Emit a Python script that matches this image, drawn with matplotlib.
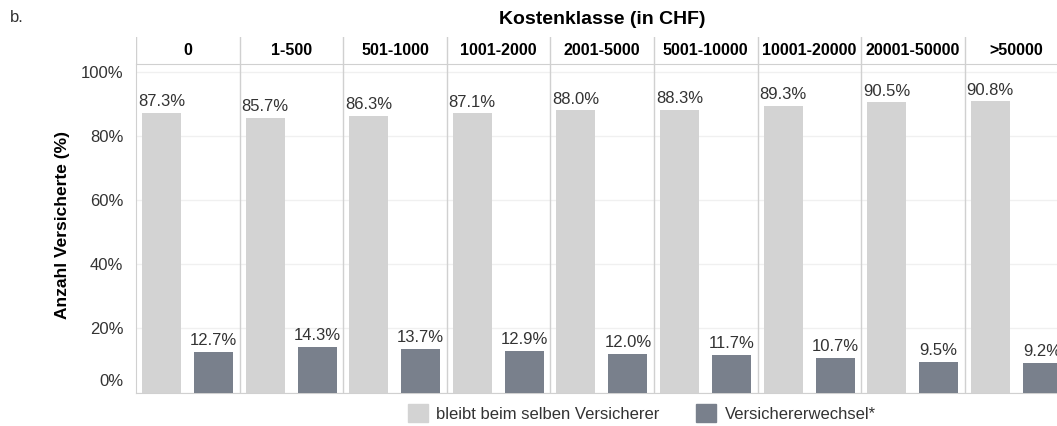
import numpy as np
import matplotlib
matplotlib.use("Agg")
import matplotlib.pyplot as plt
import matplotlib.transforms as mtransforms
from matplotlib.patches import Patch
from matplotlib.ticker import FuncFormatter

plt.rcParams['font.family'] = ['Liberation Sans', 'DejaVu Sans']

# data
classes = ['0', '1-500', '501-1000', '1001-2000', '2001-5000', '5001-10000',
           '10001-20000', '20001-50000', '>50000']
stay = [87.3, 85.7, 86.3, 87.1, 88.0, 88.3, 89.3, 90.5, 90.8]
switch = [12.7, 14.3, 13.7, 12.9, 12.0, 11.7, 10.7, 9.5, 9.2]

c_stay = '#d3d3d3'
c_switch = '#79808c'
c_text = '#333333'
c_sep = '#d0d0d0'

W, H = 1057, 426
fig = plt.figure(figsize=(W / 100, H / 100), dpi=100)

# panel geometry (pixels)
x0 = 136
pw = 103.6
n = len(classes)
y_top = 64
y_bot = 392.5

ax = fig.add_axes([x0 / W, (H - y_bot) / H, n * pw / W, (y_bot - y_top) / H])
ax.set_xlim(0, n)
ax.set_ylim(0, 102.5)

pos = np.arange(n)
bw = 0.376
ax.bar(pos + 0.246, stay, width=bw, color=c_stay, zorder=3)
ax.bar(pos + 0.748, switch, width=bw, color=c_switch, zorder=3)

for i in range(n):
    ax.text(pos[i] + 0.246, stay[i] + 1.2, f'{stay[i]:.1f}%', ha='center', va='bottom',
            fontsize=12, color=c_text, zorder=4)
    ax.text(pos[i] + 0.748, switch[i] + 1.2, f'{switch[i]:.1f}%', ha='center', va='bottom',
            fontsize=12, color=c_text, zorder=4)

# panel separators
for i in range(1, n + 1):
    ax.axvline(i, color=c_sep, lw=1, zorder=2)

ax.set_yticks([0, 20, 40, 60, 80, 100])
ax.yaxis.set_major_formatter(FuncFormatter(lambda v, p: f'{v:.0f}%'))
ax.grid(axis='y', color='#f0f0f0', lw=1, zorder=0)
ax.set_xticks([])
ax.tick_params(axis='y', length=0, pad=9, labelsize=12, labelcolor=c_text)
ax.spines['right'].set_visible(False)
ax.spines['left'].set_color(c_sep)
ax.spines['bottom'].set_color(c_sep)
ax.spines['top'].set_color(c_sep)

# lift the bottom tick label like the reference
fig.canvas.draw()
lab0 = ax.get_yticklabels()[0]
lab0.set_transform(lab0.get_transform() + mtransforms.ScaledTranslation(0, 12 / 100, fig.dpi_scale_trans))

# header row
hax = fig.add_axes([x0 / W, (H - y_top) / H, n * pw / W, 27 / H])
hax.set_xlim(0, n)
hax.set_ylim(0, 1)
hax.axis('off')
for i in range(0, n + 1):
    hax.axvline(i, color=c_sep, lw=1)
for i, c in enumerate(classes):
    hax.text(i + 0.5, 0.5, c, ha='center', va='center', fontsize=11.5,
             fontweight='bold', color='black')

fig.text(602 / W, (H - 20) / H, 'Kostenklasse (in CHF)', ha='center', va='center',
         fontsize=14, fontweight='bold')
fig.text(10 / W, (H - 18) / H, 'b.', ha='left', va='center', fontsize=12, color=c_text)
fig.text(62 / W, (H - 225) / H, 'Anzahl Versicherte (%)', rotation=90, ha='center',
         va='center', fontsize=12.5, fontweight='bold')

handles = [Patch(color=c_stay, label='bleibt beim selben Versicherer'),
           Patch(color=c_switch, label='Versichererwechsel*')]
fig.legend(handles=handles, loc='center', bbox_to_anchor=(642 / W, 13 / H), ncol=2,
           frameon=False, fontsize=12, handlelength=1.2, handleheight=1.2,
           columnspacing=2.2, handletextpad=0.5, labelcolor=c_text)

fig.savefig('out.png', dpi=100)
